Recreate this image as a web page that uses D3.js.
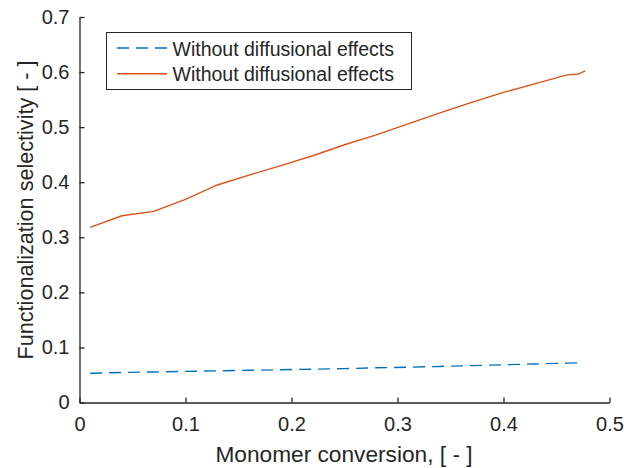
<!DOCTYPE html>
<html>
<head>
<meta charset="utf-8">
<script src="https://cdn.jsdelivr.net/npm/d3@7"></script>
<style>
  body { margin: 0; background: #fff; }
  svg { display: block; font-family: "Liberation Sans", Arial, Helvetica, sans-serif; }
</style>
</head>
<body>
<svg id="chart" width="624" height="468"></svg>
<script>
// ---- data ----
const conversion = [0.01, 0.04, 0.07, 0.10, 0.13, 0.16, 0.19, 0.22, 0.25, 0.28, 0.31, 0.34, 0.37, 0.40, 0.43, 0.46, 0.47, 0.477];
const selectivityNoDiff = [0.053, 0.0545, 0.0555, 0.0565, 0.0575, 0.0585, 0.0595, 0.0605, 0.0615, 0.063, 0.064, 0.0655, 0.067, 0.0685, 0.070, 0.0715, 0.072, null];
const selectivityDiff = [0.318, 0.339, 0.347, 0.369, 0.395, 0.413, 0.430, 0.448, 0.468, 0.486, 0.506, 0.526, 0.545, 0.563, 0.579, 0.595, 0.596, 0.602];
const xTicks = [0, 0.1, 0.2, 0.3, 0.4, 0.5];
const yTicks = [0, 0.1, 0.2, 0.3, 0.4, 0.5, 0.6, 0.7];
const legendLabels = ["Without diffusional effects", "Without diffusional effects"];
const xLabel = "Monomer conversion, [ - ]";
const yLabel = "Functionalization selectivity [ - ]";

// ---- layout ----
const svg = d3.select("#chart");
const mLeft = 79.5, mRight = 609.5, mTop = 17, mBottom = 402.5;
const axisColor = "#262626";
const x = d3.scaleLinear().domain([0, 0.5]).range([mLeft, mRight]);
const y = d3.scaleLinear().domain([0, 0.7]).range([mBottom, mTop]);

const fmt = d => d === 0 ? "0" : d3.format(".1f")(d);

// x axis
const gx = svg.append("g").attr("transform", `translate(0,${mBottom})`)
  .call(d3.axisBottom(x).tickValues(xTicks).tickFormat(fmt).tickSizeInner(-5).tickSizeOuter(0).tickPadding(14));
// y axis
const gy = svg.append("g").attr("transform", `translate(${mLeft},0)`)
  .call(d3.axisLeft(y).tickValues(yTicks).tickFormat(fmt).tickSizeInner(-5).tickSizeOuter(0).tickPadding(10));
[gx, gy].forEach(g => {
  g.select(".domain").attr("stroke", axisColor).attr("stroke-width", 1.3);
  g.selectAll(".tick line").attr("stroke", axisColor).attr("stroke-width", 1.3);
  g.selectAll(".tick text").attr("fill", axisColor).style("font-size", "20px").style("font-family", "'Liberation Sans', Arial, sans-serif");
});
gx.selectAll(".tick text").attr("dy", "0.71em");

// lines
const pts = vals => conversion.map((c, i) => [c, vals[i]]).filter(d => d[1] != null);
const line = d3.line().x(d => x(d[0])).y(d => y(d[1]));
svg.append("path").datum(pts(selectivityNoDiff)).attr("d", line)
  .attr("fill", "none").attr("stroke", "#0072BD").attr("stroke-width", 1.4).attr("stroke-dasharray", "12,7");
svg.append("path").datum(pts(selectivityDiff)).attr("d", line)
  .attr("fill", "none").attr("stroke", "#D95319").attr("stroke-width", 1.4);

// axis labels
svg.append("text").attr("x", 344).attr("y", 462)
  .attr("text-anchor", "middle").attr("fill", axisColor).style("font-size", "22.7px").text(xLabel);
svg.append("text").attr("transform", `translate(32.5,210) rotate(-90)`)
  .attr("text-anchor", "middle").attr("fill", axisColor).style("font-size", "21.6px").text(yLabel);

// legend
const lg = svg.append("g");
lg.append("rect").attr("x", 106.5).attr("y", 32.5).attr("width", 305).attr("height", 57)
  .attr("fill", "#fff").attr("stroke", axisColor).attr("stroke-width", 1);
const legStyles = [{c: "#0072BD", dash: "12,7"}, {c: "#D95319", dash: null}];
legendLabels.forEach((lab, i) => {
  const cy = 48 + i * 25.7;
  lg.append("line").attr("x1", 117).attr("x2", 167).attr("y1", cy).attr("y2", cy)
    .attr("stroke", legStyles[i].c).attr("stroke-width", 1.4).attr("stroke-dasharray", legStyles[i].dash);
  lg.append("text").attr("x", 172.5).attr("y", cy + 7.5).attr("fill", axisColor)
    .style("font-size", "19.5px").text(lab);
});
</script>
</body>
</html>
